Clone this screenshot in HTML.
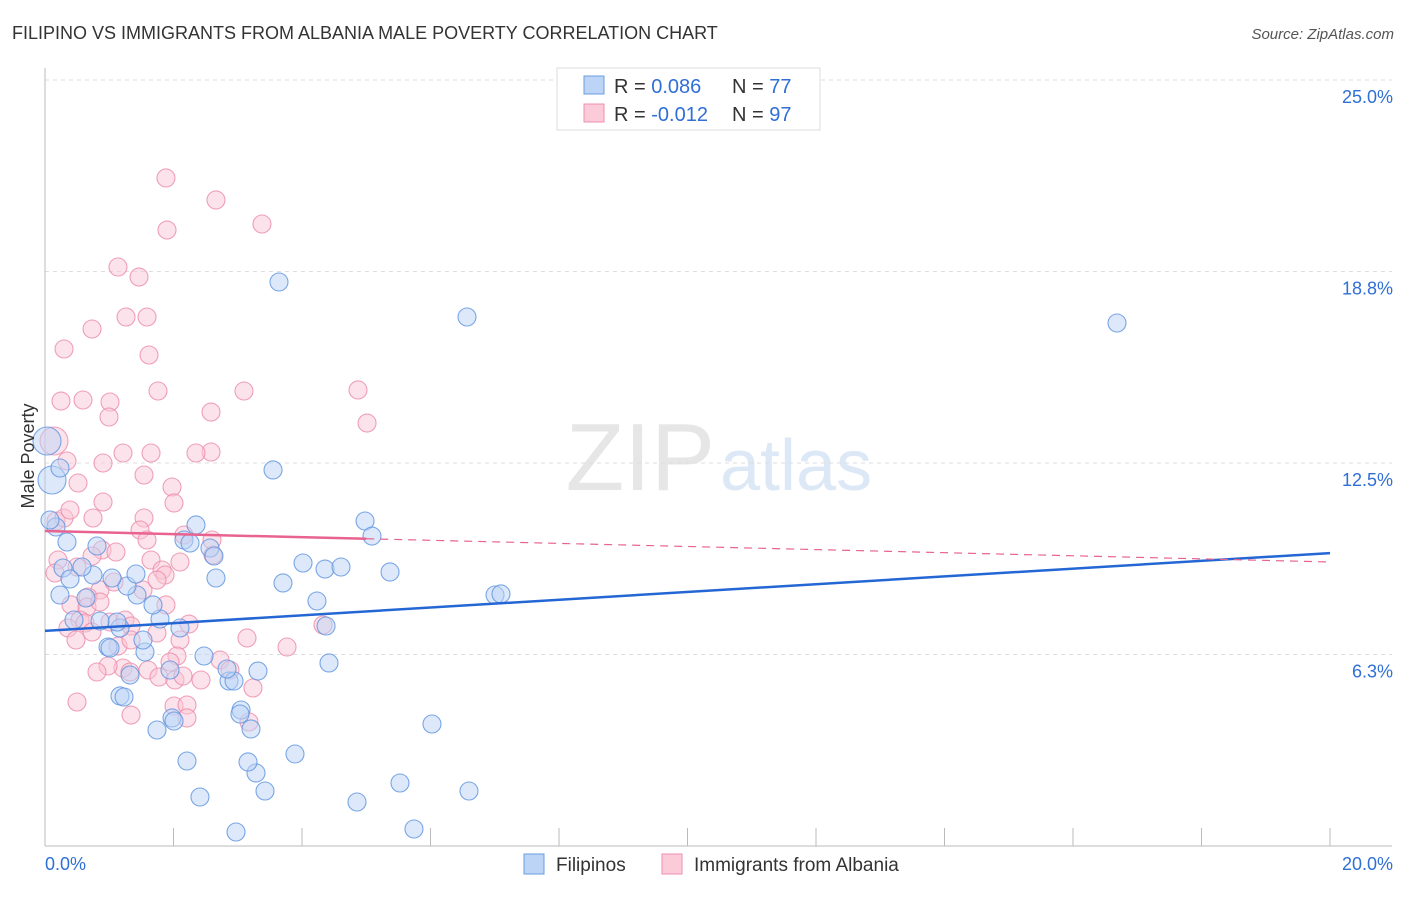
<!DOCTYPE html>
<html><head><meta charset="utf-8"><style>
body{margin:0;background:#fff;font-family:"Liberation Sans",sans-serif}
svg text{font-family:"Liberation Sans",sans-serif}
</style></head><body>
<svg id="c" width="1406" height="892" xmlns="http://www.w3.org/2000/svg">
<text x="12" y="39" font-size="18" fill="#333">FILIPINO VS IMMIGRANTS FROM ALBANIA MALE POVERTY CORRELATION CHART</text>
<text x="1394" y="39" font-size="15" fill="#555" font-style="italic" text-anchor="end">Source: ZipAtlas.com</text>
<text x="715" y="490" font-size="96" fill="#e6e6e6" text-anchor="end" font-family="Liberation Serif">ZIP</text>
<text x="720" y="490" font-size="72" fill="#dde8f6">atlas</text>
<g id="grid"></g><g id="pts"></g><g id="lines"></g>
<text transform="translate(34,456) rotate(-90)" font-size="18" fill="#333" text-anchor="middle">Male Poverty</text>
<g>
<rect x="557" y="68" width="263" height="62" fill="#fff" stroke="#ddd"/>
<rect x="584" y="76" width="20" height="18" fill="#bcd4f5" stroke="#6a9be0"/>
<rect x="584" y="104" width="20" height="18" fill="#fbcbd9" stroke="#ec8fae"/>
<text x="614" y="93" font-size="20" fill="#333">R = <tspan fill="#2f6fd6">0.086</tspan><tspan x="732">N = </tspan><tspan fill="#2f6fd6">77</tspan></text>
<text x="614" y="121" font-size="20" fill="#333">R = <tspan fill="#2f6fd6">-0.012</tspan><tspan x="732">N = </tspan><tspan fill="#2f6fd6">97</tspan></text>
</g>
<g>
<rect x="524" y="854" width="20" height="20" fill="#bcd4f5" stroke="#6a9be0"/>
<text x="556" y="871" font-size="19" fill="#333">Filipinos</text>
<rect x="662" y="854" width="20" height="20" fill="#fbcbd9" stroke="#ec8fae"/>
<text x="694" y="871" font-size="19" fill="#333">Immigrants from Albania</text>
</g>
</svg>
<script>
const xTickLabels=["0.0%","20.0%"];
const yTicks=[6.25,12.5,18.75,25];
const yTickLabels=["6.3%","12.5%","18.8%","25.0%"];
const bluePx=[[279,282],[467,317],[1117,323],[273,470],[365,521],[372,536],[196,525],[184,540],[190,543],[210,548],[214,556],[303,563],[325,569],[341,567],[390,572],[216,578],[283,583],[495,595],[501,594],[317,601],[326,626],[329,663],[432,724],[295,754],[400,783],[469,791],[357,802],[265,791],[256,773],[248,762],[200,797],[187,761],[236,832],[414,829],[251,729],[241,710],[240,714],[229,681],[234,681],[258,671],[227,669],[204,656],[172,718],[174,721],[157,730],[120,696],[124,697],[145,652],[170,670],[130,675],[108,647],[143,640],[120,628],[117,622],[100,621],[74,620],[160,619],[180,628],[153,605],[137,595],[127,586],[112,578],[93,575],[82,567],[63,568],[70,579],[60,595],[86,598],[97,546],[67,542],[56,527],[50,520],[52,480],[47,441],[60,468],[136,574],[110,648]];
const pinkPx=[[166,178],[216,200],[167,230],[262,224],[118,267],[139,277],[126,317],[147,317],[92,329],[64,349],[149,355],[158,391],[358,390],[244,391],[61,401],[83,400],[110,402],[109,417],[211,412],[367,423],[211,452],[196,453],[151,453],[123,453],[54,441],[67,461],[103,463],[78,483],[103,502],[144,475],[172,487],[174,503],[144,518],[93,518],[56,521],[64,518],[70,510],[58,560],[55,573],[77,567],[102,550],[116,552],[92,556],[151,560],[162,570],[165,575],[100,590],[88,597],[114,582],[143,590],[157,580],[71,605],[87,607],[100,602],[80,620],[85,623],[68,628],[110,622],[125,620],[131,626],[76,640],[92,632],[118,646],[131,640],[157,633],[189,624],[184,535],[140,530],[147,540],[180,562],[213,555],[212,540],[166,605],[180,640],[177,656],[170,662],[123,668],[108,666],[97,672],[130,672],[148,670],[159,677],[175,680],[183,676],[201,680],[220,660],[230,670],[247,638],[253,688],[287,647],[323,625],[131,715],[77,702],[174,706],[187,705],[187,718],[249,722]];
const blueX=bluePx.map(p=>+((p[0]-45)/1285*20).toFixed(3));
const blueY=bluePx.map(p=>+((846-p[1])/30.64).toFixed(3));
const pinkX=pinkPx.map(p=>+((p[0]-45)/1285*20).toFixed(3));
const pinkY=pinkPx.map(p=>+((846-p[1])/30.64).toFixed(3));
const blueTrend=[7.02,9.56];
const pinkTrend=[10.28,9.27];
const pinkSolidEnd=5.0;
const X=v=>45+v/20*1285, Y=v=>846-v*30.64;
const NS="http://www.w3.org/2000/svg";
function mk(t,a,p){const e=document.createElementNS(NS,t);for(const k in a)e.setAttribute(k,a[k]);p.appendChild(e);return e;}
const g=document.getElementById('grid');
yTicks.forEach((v,i)=>{
 const l=mk('line',{x1:45,x2:1392,y1:Y(v),y2:Y(v),stroke:'#ddd','stroke-dasharray':'4,4'},g);
 
 
 const t=mk('text',{x:1393,y:Y(v)+23,'font-size':18,fill:'#2f6fd6','text-anchor':'end'},g);t.textContent=yTickLabels[i];
 
 
});
const ax=mk('line',{x1:45,x2:1392,y1:846,y2:846,stroke:'#bbb'},g);


const ay=mk('line',{x1:45,x2:45,y1:68,y2:846,stroke:'#bbb'},g);


for(let i=1;i<=10;i++){const t=mk('line',{x1:X(i*2),x2:X(i*2),y1:828,y2:846,stroke:'#bbb'},g);
 
 }
const t0=mk('text',{x:45,y:870,'font-size':18,fill:'#2f6fd6'},g);t0.textContent=xTickLabels[0];


const t1=mk('text',{x:1393,y:870,'font-size':18,fill:'#2f6fd6','text-anchor':'end'},g);t1.textContent=xTickLabels[1];


const P=document.getElementById('pts');
function dots(xs,ys,fill,stroke,name){xs.forEach((x,i)=>{
 const big=x<0.2&&ys[i]>11.5;
 const c=mk('circle',{cx:X(x),cy:Y(ys[i]),r:big?14:9,fill:fill,'fill-opacity':0.5,stroke:stroke,'stroke-opacity':0.8,'stroke-width':1.1},P);
 
 
});}
dots(pinkX,pinkY,'#f9c6d6','#ec89a9','albania-point');
dots(blueX,blueY,'#bcd4f5','#5b92e0','filipino-point');
const L=document.getElementById('lines');
const bl=mk('line',{x1:X(0),y1:Y(blueTrend[0]),x2:X(20),y2:Y(blueTrend[1]),stroke:'#2467d4','stroke-width':2.5},L);


const pe=pinkTrend[0]+(pinkTrend[1]-pinkTrend[0])*pinkSolidEnd/20;
const pl=mk('line',{x1:X(0),y1:Y(pinkTrend[0]),x2:X(pinkSolidEnd),y2:Y(pe),stroke:'#e8638f','stroke-width':2.5},L);


const pd=mk('line',{x1:X(pinkSolidEnd),y1:Y(pe),x2:X(20),y2:Y(pinkTrend[1]),stroke:'#e8638f','stroke-width':1.2,'stroke-dasharray':'8,6'},L);


</script>
</body></html>
